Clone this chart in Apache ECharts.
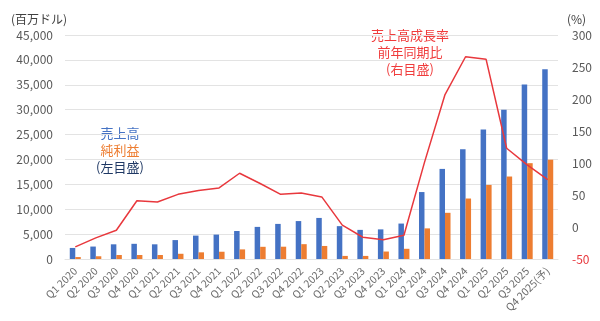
<!DOCTYPE html>
<html><head><meta charset="utf-8">
<script src="https://cdn.jsdelivr.net/npm/echarts@6/dist/echarts.min.js"></script>
<style>html,body{margin:0;padding:0;background:#fff}#c{width:600px;height:321px}</style>
</head><body><div id="c"></div>
<script>
const categories = ['Q1 2020','Q2 2020','Q3 2020','Q4 2020','Q1 2021','Q2 2021','Q3 2021','Q4 2021','Q1 2022','Q2 2022','Q3 2022','Q4 2022','Q1 2023','Q2 2023','Q3 2023','Q4 2023','Q1 2024','Q2 2024','Q3 2024','Q4 2024','Q1 2025','Q2 2025','Q3 2025','Q4 2025(予)'];
const revenue = [2220, 2500, 2950, 3050, 2950, 3800, 4700, 4900, 5620, 6450, 7050, 7620, 8250, 6600, 5850, 5950, 7120, 13450, 18100, 22050, 26000, 30000, 35050, 38100];
const netIncome = [390, 550, 800, 800, 800, 1050, 1340, 1460, 1930, 2450, 2470, 2980, 2620, 620, 620, 1500, 2050, 6150, 9280, 12150, 14880, 16570, 19250, 19950];
const growth = [-31, -17, -5, 41, 39, 51, 57, 61, 84, 68, 51, 53, 47, 3, -16, -20, -13, 101, 207, 266, 262, 123, 97, 74];
const leftTicks = {min: 0, max: 45000, interval: 5000};
const rightTicks = {min: -50, max: 300, interval: 50};

const FONT = '"Noto Sans CJK JP", "Noto Sans", sans-serif';
const chart = echarts.init(document.getElementById('c'));
chart.setOption({
  animation: false,
  backgroundColor: '#ffffff',
  textStyle: {fontFamily: FONT},
  grid: {left: 65, right: 42, top: 35, bottom: 62},
  xAxis: {
    type: 'category', data: categories,
    axisLine: {show: true, lineStyle: {color: '#E3E3E3'}},
    axisTick: {show: false},
    axisLabel: {rotate: 45, interval: 0, color: '#6B6B6B', fontSize: 10.5, fontFamily: FONT, margin: 10}
  },
  yAxis: [
    {type: 'value', min: leftTicks.min, max: leftTicks.max, interval: leftTicks.interval,
     name: '(百万ドル)', nameLocation: 'end', nameGap: 10,
     nameTextStyle: {color: '#404040', fontSize: 12, fontFamily: FONT, align: 'right', padding: [0, -2, 0, 0]},
     axisLine: {show: false}, axisTick: {show: false},
     axisLabel: {color: '#595959', fontSize: 12, fontFamily: FONT, margin: 12,
       formatter: v => v.toLocaleString('en-US')},
     splitLine: {lineStyle: {color: '#E3E3E3', width: 1}}},
    {type: 'value', min: rightTicks.min, max: rightTicks.max, interval: rightTicks.interval,
     name: '(%)', nameLocation: 'end', nameGap: 10,
     nameTextStyle: {color: '#404040', fontSize: 12, fontFamily: FONT, align: 'left', padding: [0, 0, 0, 9]},
     axisLine: {show: false}, axisTick: {show: false},
     axisLabel: {fontSize: 12, fontFamily: FONT, margin: 14,
       color: v => (Number(v) < 0 ? '#E8383D' : '#595959')},
     splitLine: {show: false}}
  ],
  series: [
    {name: '売上高', type: 'bar', data: revenue, yAxisIndex: 0, barWidth: 5.5, barGap: '0%',
     itemStyle: {color: '#4472C4'}},
    {name: '純利益', type: 'bar', data: netIncome, yAxisIndex: 0, barWidth: 5.5, barGap: '0%',
     itemStyle: {color: '#ED7D31'}},
    {name: '売上高成長率', type: 'line', data: growth, yAxisIndex: 1, symbol: 'none',
     lineStyle: {color: '#E8383D', width: 1.5}, itemStyle: {color: '#E8383D'}, z: 5}
  ],
  graphic: [
    {type: 'text', x: 120, y: 133, style: {text: '売上高', fill: '#4472C4', font: '13px ' + FONT, textAlign: 'center', textVerticalAlign: 'middle'}},
    {type: 'text', x: 120, y: 150, style: {text: '純利益', fill: '#ED7D31', font: '13px ' + FONT, textAlign: 'center', textVerticalAlign: 'middle'}},
    {type: 'text', x: 120, y: 167, style: {text: '(左目盛)', fill: '#1F3864', font: '13px ' + FONT, textAlign: 'center', textVerticalAlign: 'middle'}},
    {type: 'text', x: 410, y: 35, style: {text: '売上高成長率', fill: '#F03C3C', font: '13px ' + FONT, textAlign: 'center', textVerticalAlign: 'middle'}},
    {type: 'text', x: 410, y: 52, style: {text: '前年同期比', fill: '#F03C3C', font: '13px ' + FONT, textAlign: 'center', textVerticalAlign: 'middle'}},
    {type: 'text', x: 410, y: 69, style: {text: '(右目盛)', fill: '#F03C3C', font: '13px ' + FONT, textAlign: 'center', textVerticalAlign: 'middle'}}
  ]
});
</script></body></html>
